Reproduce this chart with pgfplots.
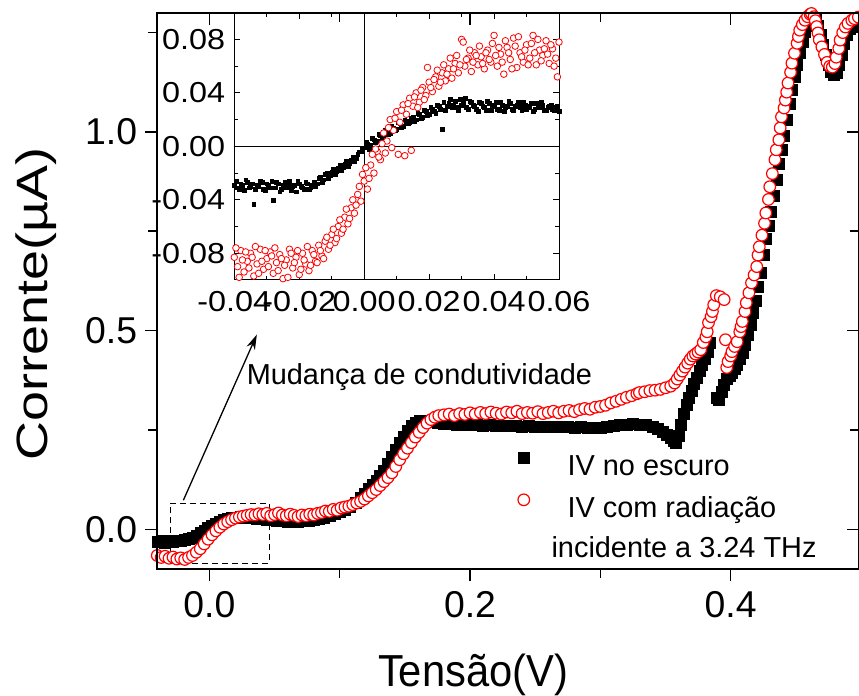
\documentclass[border=0pt]{standalone}
\usepackage{fontspec}
\setmainfont{Liberation Sans}
\newfontfamily\widesans[FakeStretch=1.12]{Liberation Sans}
\usepackage{pgfplots}
\usepackage{pgfplotstable}
\pgfplotsset{compat=1.18}
\usetikzlibrary{arrows.meta}

\pgfplotstableread{
x y
-0.040 -0.032
-0.037 -0.030
-0.034 -0.033
-0.031 -0.029
-0.028 -0.031
-0.025 -0.028
-0.022 -0.029
-0.019 -0.026
-0.016 -0.024
-0.013 -0.020
-0.010 -0.015
-0.007 -0.009
-0.004 -0.003
-0.001 0.003
0.002 0.009
0.005 0.014
0.008 0.019
0.011 0.023
0.014 0.026
0.017 0.028
0.020 0.030
0.024 0.031
0.028 0.030
0.032 0.029
0.036 0.027
0.040 0.026
0.044 0.024
0.048 0.023
0.052 0.022
0.056 0.021
0.060 0.020
0.064 0.019
0.068 0.020
0.072 0.021
0.076 0.022
0.080 0.024
0.084 0.027
0.088 0.030
0.092 0.034
0.096 0.038
0.100 0.043
0.104 0.049
0.108 0.057
0.112 0.067
0.116 0.079
0.119 0.090
0.122 0.101
0.125 0.112
0.128 0.122
0.131 0.134
0.134 0.148
0.137 0.164
0.140 0.182
0.143 0.200
0.146 0.218
0.149 0.234
0.152 0.248
0.155 0.260
0.158 0.268
0.161 0.272
0.165 0.273
0.170 0.271
0.175 0.268
0.180 0.266
0.185 0.265
0.190 0.263
0.195 0.264
0.200 0.262
0.205 0.263
0.210 0.261
0.215 0.262
0.220 0.260
0.225 0.261
0.230 0.260
0.235 0.261
0.240 0.259
0.245 0.260
0.250 0.258
0.255 0.259
0.260 0.257
0.265 0.258
0.270 0.257
0.275 0.258
0.280 0.256
0.285 0.257
0.290 0.255
0.295 0.256
0.300 0.256
0.305 0.258
0.310 0.260
0.315 0.262
0.320 0.263
0.325 0.265
0.330 0.264
0.335 0.262
0.340 0.258
0.344 0.252
0.348 0.246
0.351 0.238
0.354 0.230
0.356 0.222
0.358 0.218
0.360 0.236
0.362 0.262
0.364 0.290
0.366 0.314
0.368 0.332
0.370 0.348
0.372 0.366
0.374 0.382
0.376 0.398
0.378 0.414
0.380 0.430
0.382 0.446
0.384 0.470
0.389 0.332
0.391 0.325
0.393 0.345
0.395 0.365
0.397 0.378
0.399 0.386
0.401 0.395
0.403 0.405
0.405 0.415
0.407 0.428
0.409 0.445
0.411 0.465
0.413 0.490
0.415 0.515
0.417 0.545
0.419 0.575
0.421 0.610
0.423 0.645
0.425 0.690
0.427 0.730
0.429 0.765
0.431 0.800
0.433 0.840
0.435 0.880
0.437 0.920
0.439 0.955
0.441 0.990
0.443 1.030
0.445 1.070
0.447 1.105
0.449 1.140
0.451 1.170
0.453 1.200
0.455 1.228
0.457 1.252
0.459 1.268
0.461 1.280
0.463 1.286
0.465 1.282
0.467 1.268
0.469 1.245
0.471 1.220
0.473 1.195
0.475 1.170
0.477 1.152
0.479 1.145
0.481 1.150
0.483 1.168
0.485 1.195
0.487 1.222
0.489 1.245
0.491 1.260
0.493 1.268
0.495 1.274
0.497 1.278
}\darkmain

\pgfplotstableread{
x y
-0.040 -0.066
-0.037 -0.071
-0.034 -0.068
-0.031 -0.073
-0.028 -0.070
-0.025 -0.075
-0.022 -0.072
-0.019 -0.076
-0.016 -0.071
-0.013 -0.066
-0.010 -0.058
-0.007 -0.049
-0.004 -0.037
-0.001 -0.025
0.002 -0.014
0.005 -0.004
0.008 0.005
0.011 0.013
0.014 0.019
0.017 0.024
0.020 0.028
0.023 0.031
0.026 0.033
0.029 0.035
0.032 0.037
0.035 0.036
0.038 0.039
0.041 0.037
0.044 0.040
0.047 0.034
0.050 0.037
0.053 0.041
0.056 0.036
0.059 0.034
0.062 0.038
0.065 0.035
0.068 0.032
0.071 0.036
0.074 0.034
0.077 0.038
0.080 0.036
0.083 0.040
0.086 0.042
0.089 0.046
0.092 0.045
0.095 0.050
0.098 0.048
0.101 0.054
0.104 0.056
0.107 0.058
0.110 0.062
0.113 0.066
0.116 0.070
0.119 0.076
0.122 0.084
0.125 0.092
0.128 0.100
0.131 0.110
0.134 0.120
0.137 0.130
0.140 0.142
0.143 0.158
0.146 0.175
0.149 0.190
0.152 0.204
0.155 0.218
0.158 0.232
0.161 0.244
0.164 0.256
0.167 0.267
0.170 0.276
0.173 0.282
0.176 0.286
0.180 0.288
0.184 0.290
0.188 0.286
0.192 0.291
0.196 0.289
0.200 0.293
0.204 0.290
0.208 0.294
0.212 0.291
0.216 0.295
0.220 0.292
0.224 0.290
0.228 0.295
0.232 0.293
0.236 0.297
0.240 0.291
0.244 0.294
0.248 0.292
0.252 0.296
0.256 0.291
0.260 0.294
0.264 0.297
0.268 0.293
0.272 0.297
0.276 0.299
0.280 0.296
0.284 0.301
0.288 0.304
0.292 0.302
0.296 0.307
0.300 0.309
0.304 0.312
0.308 0.318
0.312 0.322
0.316 0.327
0.320 0.332
0.324 0.336
0.328 0.341
0.330 0.344
0.334 0.346
0.338 0.349
0.342 0.350
0.346 0.352
0.350 0.356
0.354 0.360
0.357 0.368
0.359 0.378
0.361 0.388
0.363 0.398
0.365 0.408
0.367 0.418
0.369 0.428
0.371 0.436
0.373 0.441
0.375 0.446
0.377 0.452
0.379 0.470
0.381 0.484
0.382 0.497
0.383 0.520
0.385 0.535
0.386 0.548
0.387 0.565
0.389 0.588
0.392 0.585
0.395 0.578
0.396 0.477
0.397 0.407
0.398 0.422
0.400 0.436
0.401 0.447
0.403 0.460
0.405 0.472
0.407 0.497
0.408 0.510
0.409 0.523
0.411 0.548
0.412 0.570
0.414 0.595
0.416 0.620
0.418 0.640
0.420 0.661
0.421 0.690
0.422 0.711
0.424 0.740
0.426 0.770
0.427 0.796
0.429 0.830
0.430 0.862
0.432 0.895
0.434 0.930
0.435 0.955
0.437 0.980
0.438 1.010
0.439 1.038
0.441 1.060
0.442 1.080
0.443 1.100
0.444 1.123
0.446 1.150
0.447 1.173
0.449 1.198
0.451 1.223
0.452 1.240
0.453 1.256
0.455 1.270
0.457 1.281
0.459 1.290
0.461 1.296
0.462 1.298
0.464 1.290
0.465 1.280
0.466 1.265
0.467 1.249
0.468 1.232
0.470 1.214
0.472 1.195
0.474 1.175
0.476 1.165
0.478 1.163
0.480 1.172
0.481 1.188
0.483 1.210
0.484 1.231
0.486 1.250
0.488 1.264
0.490 1.273
0.493 1.281
0.495 1.285
0.498 1.289
}\radmain

\pgfplotstableread{
x y
-0.040 -0.029
-0.039 -0.031
-0.038 -0.028
-0.037 -0.033
-0.036 -0.027
-0.035 -0.030
-0.034 -0.043
-0.033 -0.029
-0.032 -0.026
-0.031 -0.032
-0.030 -0.028
-0.029 -0.031
-0.028 -0.040
-0.027 -0.027
-0.026 -0.034
-0.025 -0.029
-0.024 -0.031
-0.023 -0.026
-0.022 -0.030
-0.021 -0.034
-0.020 -0.028
-0.019 -0.031
-0.018 -0.027
-0.017 -0.032
-0.016 -0.029
-0.015 -0.030
-0.014 -0.024
-0.013 -0.027
-0.012 -0.021
-0.011 -0.024
-0.010 -0.019
-0.009 -0.021
-0.008 -0.016
-0.007 -0.018
-0.006 -0.013
-0.005 -0.015
-0.004 -0.010
-0.003 -0.011
-0.002 -0.006
-0.001 -0.004
0.000 -0.001
0.001 0.002
0.002 0.001
0.003 0.005
0.004 0.004
0.005 0.008
0.006 0.007
0.007 0.011
0.008 0.010
0.009 0.014
0.010 0.013
0.011 0.017
0.012 0.015
0.013 0.019
0.014 0.018
0.015 0.022
0.016 0.020
0.017 0.024
0.018 0.022
0.019 0.026
0.020 0.024
0.021 0.028
0.022 0.025
0.023 0.030
0.024 0.013
0.025 0.027
0.026 0.032
0.027 0.029
0.028 0.034
0.029 0.027
0.030 0.031
0.031 0.036
0.032 0.028
0.033 0.033
0.034 0.030
0.035 0.026
0.036 0.032
0.037 0.029
0.038 0.034
0.039 0.027
0.040 0.031
0.041 0.028
0.042 0.033
0.043 0.026
0.044 0.030
0.045 0.032
0.046 0.027
0.047 0.031
0.048 0.029
0.049 0.033
0.050 0.028
0.051 0.030
0.052 0.026
0.053 0.032
0.054 0.029
0.055 0.031
0.056 0.027
0.057 0.030
0.058 0.028
0.059 0.029
0.060 0.026
-0.0395 -0.026
-0.0385 -0.032
-0.0375 -0.029
-0.0365 -0.025
-0.0355 -0.031
-0.0345 -0.028
-0.0335 -0.032
-0.0325 -0.030
-0.0315 -0.027
-0.0305 -0.033
-0.0295 -0.029
-0.0285 -0.026
-0.0275 -0.031
-0.0265 -0.028
-0.0255 -0.032
-0.0245 -0.027
-0.0235 -0.030
-0.0225 -0.033
-0.0215 -0.029
-0.0205 -0.026
-0.0195 -0.030
-0.0185 -0.032
-0.0175 -0.028
-0.0165 -0.031
-0.0155 -0.027
-0.0145 -0.028
-0.0135 -0.023
-0.0125 -0.025
-0.0115 -0.020
-0.0105 -0.022
-0.0095 -0.017
-0.0085 -0.019
-0.0075 -0.014
-0.0065 -0.016
-0.0055 -0.011
-0.0045 -0.013
-0.0035 -0.008
-0.0025 -0.009
-0.0015 -0.004
-0.0005 -0.002
0.0005 0.003
0.0015 -0.002
0.0025 0.006
0.0035 0.003
0.0045 0.009
0.0055 0.006
0.0065 0.012
0.0075 0.009
0.0085 0.015
0.0095 0.012
0.0105 0.018
0.0115 0.014
0.0125 0.020
0.0135 0.017
0.0145 0.021
0.0155 0.019
0.0165 0.025
0.0175 0.021
0.0185 0.027
0.0195 0.023
0.0205 0.029
0.0215 0.026
0.0225 0.031
0.0235 0.028
0.0245 0.033
0.0255 0.030
0.0265 0.035
0.0275 0.031
0.0285 0.029
0.0295 0.035
0.0305 0.033
0.0315 0.029
0.0325 0.034
0.0335 0.031
0.0345 0.028
0.0355 0.033
0.0365 0.030
0.0375 0.027
0.0385 0.032
0.0395 0.030
0.0405 0.033
0.0415 0.027
0.0425 0.031
0.0435 0.029
0.0445 0.034
0.0455 0.028
0.0465 0.030
0.0475 0.033
0.0485 0.027
0.0495 0.031
0.0505 0.029
0.0515 0.032
0.0525 0.028
0.0535 0.030
0.0545 0.033
0.0555 0.027
0.0565 0.029
0.0575 0.031
0.0585 0.027
0.0595 0.030
}\darkinset

\pgfplotstableread{
x y
-0.040 -0.083
-0.039 -0.090
-0.038 -0.078
-0.037 -0.094
-0.036 -0.086
-0.035 -0.080
-0.034 -0.097
-0.033 -0.088
-0.032 -0.077
-0.031 -0.092
-0.030 -0.084
-0.029 -0.079
-0.028 -0.095
-0.027 -0.087
-0.026 -0.081
-0.025 -0.099
-0.024 -0.085
-0.023 -0.077
-0.022 -0.091
-0.021 -0.083
-0.020 -0.096
-0.019 -0.080
-0.018 -0.088
-0.017 -0.093
-0.016 -0.078
-0.015 -0.086
-0.014 -0.074
-0.013 -0.082
-0.012 -0.071
-0.011 -0.077
-0.010 -0.066
-0.009 -0.072
-0.008 -0.060
-0.007 -0.065
-0.006 -0.053
-0.005 -0.058
-0.004 -0.046
-0.003 -0.050
-0.002 -0.036
-0.001 -0.041
0.000 -0.026
0.001 -0.032
0.002 -0.014
0.003 -0.020
0.004 -0.004
0.005 -0.010
0.006 0.010
0.007 0.004
0.008 0.020
0.009 0.012
0.010 0.026
0.011 0.018
0.012 0.031
0.013 0.024
0.014 0.036
0.015 0.030
0.016 0.040
0.017 0.033
0.018 0.044
0.019 0.038
0.020 0.048
0.021 0.041
0.022 0.052
0.023 0.045
0.024 0.055
0.025 0.049
0.026 0.058
0.027 0.051
0.028 0.062
0.029 0.055
0.030 0.080
0.031 0.060
0.032 0.066
0.033 0.056
0.034 0.070
0.035 0.061
0.036 0.067
0.037 0.058
0.038 0.072
0.039 0.063
0.040 0.083
0.041 0.060
0.042 0.069
0.043 0.054
0.044 0.074
0.045 0.065
0.046 0.081
0.047 0.059
0.048 0.070
0.049 0.063
0.050 0.076
0.051 0.066
0.052 0.083
0.053 0.061
0.054 0.072
0.055 0.068
0.056 0.079
0.057 0.062
0.058 0.073
0.059 0.066
0.060 0.078
-0.0395 -0.076
-0.0385 -0.098
-0.0375 -0.085
-0.0365 -0.079
-0.0355 -0.091
-0.0345 -0.083
-0.0335 -0.075
-0.0325 -0.095
-0.0315 -0.086
-0.0305 -0.078
-0.0295 -0.090
-0.0285 -0.082
-0.0275 -0.076
-0.0265 -0.093
-0.0255 -0.084
-0.0245 -0.089
-0.0235 -0.098
-0.0225 -0.080
-0.0215 -0.087
-0.0205 -0.078
-0.0195 -0.092
-0.0185 -0.085
-0.0175 -0.075
-0.0165 -0.089
-0.0155 -0.081
-0.0145 -0.087
-0.0135 -0.078
-0.0125 -0.084
-0.0115 -0.068
-0.0105 -0.074
-0.0095 -0.062
-0.0085 -0.069
-0.0075 -0.055
-0.0065 -0.062
-0.0055 -0.047
-0.0045 -0.054
-0.0035 -0.040
-0.0025 -0.044
-0.0015 -0.030
-0.0005 -0.021
0.0005 -0.016
0.0015 -0.024
0.0025 -0.006
0.0035 -0.002
0.0045 -0.008
0.0055 0.002
0.0065 -0.005
0.0075 0.014
0.0085 -0.001
0.0095 0.021
0.0105 -0.006
0.0115 0.027
0.0125 -0.007
0.0135 0.032
0.0145 -0.003
0.0155 0.037
0.0165 0.029
0.0175 0.042
0.0185 0.035
0.0195 0.059
0.0205 0.044
0.0215 0.050
0.0225 0.057
0.0235 0.048
0.0245 0.061
0.0255 0.054
0.0265 0.066
0.0275 0.058
0.0285 0.068
0.0295 0.061
0.0305 0.078
0.0315 0.065
0.0325 0.072
0.0335 0.063
0.0345 0.068
0.0355 0.075
0.0365 0.062
0.0375 0.070
0.0385 0.065
0.0395 0.077
0.0405 0.068
0.0415 0.074
0.0425 0.063
0.0435 0.079
0.0445 0.070
0.0455 0.058
0.0465 0.075
0.0475 0.082
0.0485 0.067
0.0495 0.072
0.0505 0.061
0.0515 0.077
0.0525 0.070
0.0535 0.080
0.0545 0.064
0.0555 0.073
0.0565 0.069
0.0575 0.076
0.0585 0.060
0.0595 0.052
}\radinset

\begin{document}
\begin{tikzpicture}
\path[use as bounding box] (0bp,0bp) rectangle (859bp,696bp);

% main axis: data, labels, bottom/left outward ticks
\begin{axis}[
  at={(157.3bp,127bp)}, anchor=south west,
  scale only axis, width=701.7bp, height=556.3bp,
  xmin=-0.04, xmax=0.4985, ymin=-0.1, ymax=1.3,
  xtick={0,0.2,0.4}, minor xtick={0.1,0.3},
  ytick={0,0.5,1}, minor ytick={0.25,0.75,1.25},
  scaled ticks=false,
  tick pos=left, tick align=outside,
  major tick length=12bp, minor tick length=9bp,
  every tick/.style={black, line width=1.5bp},
  axis line style={line width=1.8bp},
  clip=false,
  /pgf/number format/assume math mode=true,
  ticklabel style={font=\fontsize{37.5}{37.5}\selectfont, inner sep=0pt,
    /pgf/number format/fixed, /pgf/number format/fixed zerofill,
    /pgf/number format/precision=1},
  xticklabel style={yshift=-10bp},
  yticklabel style={xshift=-8bp},
  xlabel={\scalebox{0.93}[1]{\fontsize{45}{45}\selectfont Tensão(V)}},
  ylabel={\scalebox{1.23}[1]{\fontsize{44}{44}\selectfont Corrente(µA)}},
  xlabel style={at={(axis description cs:0.450,0)}, anchor=base, yshift=-117bp, inner sep=0pt},
  ylabel style={at={(axis description cs:-0.1558,0.4764)}, anchor=base, inner sep=0pt},
  legend cell align=left,
  legend image code/.code={\draw[#1] plot coordinates {(0bp,10bp)};},
  legend style={at={(0.514,0.2103)}, anchor=north west, draw=none, fill=none,
    inner sep=0pt, outer sep=0pt, column sep=22bp, row sep=13bp,
    font=\fontsize{29}{29}\selectfont,
    nodes={inner sep=0pt, text height=21bp, text depth=6bp}},
]
\addplot[only marks, mark=square*, mark size=5.5bp, black] table[x=x,y=y] {\darkmain};
\addlegendentry{\hspace*{16bp}IV no escuro}
\addplot[only marks, mark=*, mark size=5.8bp, red, line width=1.2bp, mark options={fill=white, draw=red}] table[x=x,y=y] {\radmain};
\addlegendentry{\hspace*{16bp}IV com radiação}
\addlegendimage{legend image code/.code={}}
\addlegendentry{incidente a 3.24 THz}

\draw[black, line width=1.1bp, dash pattern=on 6bp off 4bp] (axis cs:-0.0302,-0.0854) rectangle (axis cs:0.0458,0.0653);
\draw[black, line width=1.3bp, -{Stealth[length=15bp,width=9bp]}] (axis cs:-0.020,0.073) -- (axis cs:0.0364,0.49);
\node[anchor=base west, inner sep=0pt, font=\fontsize{29}{29}\selectfont] at (axis cs:0.0285,0.364) {Mudança de condutividade};
\end{axis}

% main axis: top/right inward ticks
\begin{axis}[
  at={(157.3bp,127bp)}, anchor=south west,
  scale only axis, width=701.7bp, height=556.3bp,
  xmin=-0.04, xmax=0.4985, ymin=-0.1, ymax=1.3,
  xtick={0,0.2,0.4}, minor xtick={0.1,0.3},
  ytick={0,0.5,1}, minor ytick={0.25,0.75,1.25},
  tick pos=right, tick align=inside,
  xticklabels={}, yticklabels={},
  major tick length=12bp, minor tick length=9bp,
  every tick/.style={black, line width=1.5bp},
  axis line style={line width=1.8bp},
]
\end{axis}

% inset
\begin{axis}[
  at={(234.3bp,416bp)}, anchor=south west,
  scale only axis, width=324.7bp, height=267.3bp,
  xmin=-0.04, xmax=0.06, ymin=-0.1, ymax=0.1,
  xtick={-0.04,-0.02,0,0.02,0.04,0.06}, minor x tick num=1,
  ytick={-0.08,-0.04,0,0.04,0.08}, minor y tick num=1,
  scaled ticks=false,
  tick pos=both, tick align=inside,
  major tick length=6bp, minor tick length=4bp,
  every tick/.style={black, line width=0.9bp},
  axis line style={line width=1bp},
  clip=false,
  /pgf/number format/assume math mode=true,
  ticklabel style={font=\widesans\fontsize{29}{29}\selectfont, inner sep=0pt,
    /pgf/number format/fixed, /pgf/number format/fixed zerofill,
    /pgf/number format/precision=2},
  xticklabel style={yshift=-11bp},
  yticklabel style={xshift=-9bp},
]
\draw[black, line width=1bp] (axis cs:0,-0.1) -- (axis cs:0,0.1);
\draw[black, line width=1bp] (axis cs:-0.04,0) -- (axis cs:0.06,0);
\addplot[only marks, mark=square*, mark size=1.9bp, black] table[x=x,y=y] {\darkinset};
\addplot[only marks, mark=*, mark size=3.3bp, red, line width=0.8bp, mark options={fill=white, draw=red}] table[x=x,y=y] {\radinset};
\end{axis}
\end{tikzpicture}
\end{document}
